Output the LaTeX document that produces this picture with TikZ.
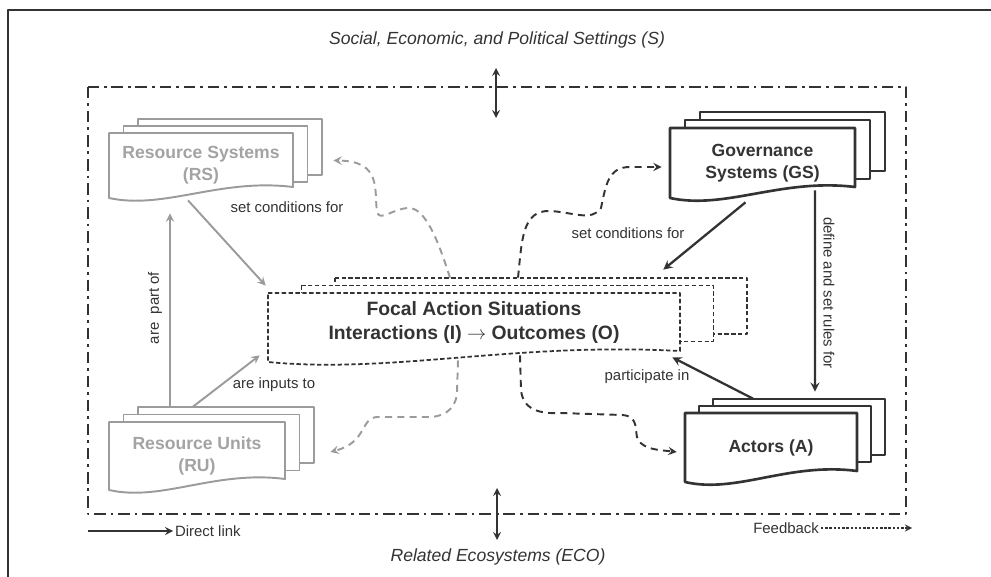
\documentclass[tikz,border=0pt]{standalone}
\usepackage{fontspec}
\setmainfont{Liberation Sans}
\usetikzlibrary{calc}
\definecolor{dk}{HTML}{333333}
\definecolor{gr}{HTML}{9B9B9B}
\definecolor{grt}{HTML}{A3A3A3}

% stacked document shape: x, y, width, height, dx, dy, height of back sheets
\newcommand{\docstack}[7]{%
  \draw[fill=white] (#1+2*#5,#2-2*#6) rectangle ++(#3,#7);
  \draw[fill=white] (#1+#5,#2-#6) rectangle ++(#3,#7);
  \draw[fill=white] (#1,#2) -- ++(#3,0) -- ++(0,#4-11)
    .. controls +(-0.4*#3,-9) and +(0.3*#3,12) .. (#1,#2+#4) -- cycle;
}

\begin{document}
\begin{tikzpicture}[
      x = 0.02cm, y = -0.02cm, % one unit = one pixel
      > = stealth, % arrow head style
      line join = round,
    ]

    \tikzstyle{dark line}=[draw = dk, line width = 1.5pt]
    \tikzstyle{gray line}=[draw = gr, line width = 1.1pt]
    \tikzstyle{dash box}=[draw = dk, line width = 1pt, dash pattern = on 2.5pt off 1.4pt]
    \tikzstyle{feedback}=[->, line width = 1.1pt, dash pattern = on 4pt off 3pt]
    \tikzstyle{link}=[->, line width = 1.3pt]
    \tikzstyle{box text}=[inner sep = 0pt, align = center,
      font = \fontsize{10}{12.5}\selectfont\bfseries]
    \tikzstyle{edge text}=[inner sep = 1pt, text = dk,
      font = \fontsize{8.5}{10}\selectfont]
    \tikzstyle{outer text}=[inner sep = 1pt, text = dk,
      font = \fontsize{10}{12}\selectfont\itshape]

    \useasboundingbox (0,0) rectangle (991,577);

    % frame and setting
    \draw[dk, line width = 1.7pt] (8,577) -- (8,10) -- (991,10);
    \draw[dk, line width = 1.6pt, dash pattern = on 6.5pt off 2.8pt on 1.6pt off 2.8pt]
      (88,87) rectangle (906,514);

    % boxes
    \begin{scope}[gray line]
      \docstack{109}{133}{184}{65}{14.5}{7}{56}
      \docstack{109}{422}{176}{68}{14.5}{7.5}{56}
    \end{scope}
    \begin{scope}[dark line]
      \docstack{670}{128}{185}{70}{15}{8}{59}
      \docstack{685}{413}{172}{69}{14}{7}{56}
    \end{scope}
    \begin{scope}[dash box]
      \docstack{268}{293}{412}{69}{33.5}{7.5}{56}
    \end{scope}

    \node[box text, text = grt, minimum width = 3.68cm, minimum height = 1.3cm]
      (rs) at (201,165.5) {Resource Systems\\(RS)};
    \node[box text, text = grt, minimum width = 3.52cm, minimum height = 1.36cm]
      (ru) at (197,456) {Resource Units\\(RU)};
    \node[box text, text = dk, minimum width = 3.7cm, minimum height = 1.4cm]
      (gs) at (762.5,163) {Governance\\Systems (GS)};
    \node[box text, text = dk, minimum width = 3.44cm, minimum height = 1.38cm]
      (act) at (771,447.5) {Actors (A)};
    \node[box text, text = dk, minimum width = 8.24cm, minimum height = 1.38cm,
      text depth = 8pt, font = \fontsize{11}{13.6}\selectfont\bfseries]
      (fas) at (474,327.5) {Focal Action Situations\\Interactions (I) $\rightarrow$ Outcomes (O)};

    % direct links
    \draw[link, gr, line width = 1.1pt] ($(rs.south)+(-13,2)$) -- ($(fas.north west)+(-2,-7)$);
    \draw[link, gr, line width = 1.1pt] ($(ru.north)+(-27,-15)$) -- ($(rs.south)+(-31,15)$);
    \draw[link, gr, line width = 1.1pt] ($(ru.north)+(-4,-15)$) -- ($(fas.south west)+(-8,-7)$);
    \draw[link, dk] ($(gs.south)+(-17,4)$) -- ($(fas.north east)+(-17,-23)$);
    \draw[link, dk] ($(gs.south)+(52.5,-8)$) -- ($(act.north)+(44,-21)$);
    \draw[link, dk] ($(act.north)+(-18,-14)$) -- ($(fas.south east)+(-8,-5)$);

    \node[edge text] (l1) at (287,207) {set conditions for};
    \node[edge text, rotate = 90] (l2) at (155,308) {are\ \ part of};
    \node[edge text] (l3) at (274,385) {are inputs to};
    \node[edge text] (l4) at (628,233) {set conditions for};
    \node[edge text, rotate = -90] (l5) at (829,293) {define and set rules for};
    \node[edge text] (l6) at (647,377) {participate in};

    % feedbacks
    \draw[feedback, gr] ($(fas.north)+(-24,-15)$) .. controls (438,240) and (425,207) .. (408,208)
      .. controls (392,209) and (380,222) .. (377,212)
      .. controls (374,190) and (382,161) .. ($(rs.east)+(40,-5)$);
    \draw[feedback, dk] ($(fas.north)+(44,-15)$) .. controls (522,240) and (522,210) .. (550,211)
      .. controls (572,212) and (592,222) .. (601,208)
      .. controls (606,185) and (608,167) .. (630,167) -- ($(gs.west)+(-8,4)$);
    \draw[feedback, gr] ($(fas.south)+(-16,-2)$) -- (457,392)
      .. controls (456,412) and (440,418) .. (425,417) -- (378,417)
      .. controls (360,417) and (368,442) .. ($(ru.east)+(45,-4)$);
    \draw[feedback, dk] ($(fas.south)+(46,-7)$) -- (521,390)
      .. controls (523,410) and (540,414) .. (560,413) -- (622,415)
      .. controls (640,416) and (634,432) .. (638,440)
      .. controls (645,450) and (660,450) .. ($(act.west)+(-8,4.5)$);

    % settings and ecosystems
    \node[outer text] (set) at (497,40) {Social, Economic, and Political Settings (S)};
    \node[outer text] (eco) at (498,557) {Related Ecosystems (ECO)};
    \coordinate (set-a) at (496,68);
    \coordinate (set-b) at (496,118);
    \coordinate (eco-a) at (497,488);
    \coordinate (eco-b) at (497,540);
    \draw[<->, dk, line width = 1pt] (set-a) -- (set-b);
    \draw[<->, dk, line width = 1pt] (eco-a) -- (eco-b);

    % legend
    \node[edge text, anchor = west] (dl) at (173,531) {Direct link};
    \node[edge text, anchor = east] (fb) at (821,528) {Feedback};
    \coordinate (dl-a) at (88,531);
    \coordinate (fb-b) at (912,528);
    \draw[->, dk, line width = 1pt] (dl-a) -- (dl.west);
    \draw[->, dk, line width = 0.8pt, dash pattern = on 1.4pt off 1pt] (fb.east) -- (fb-b);

  \end{tikzpicture}
\end{document}
